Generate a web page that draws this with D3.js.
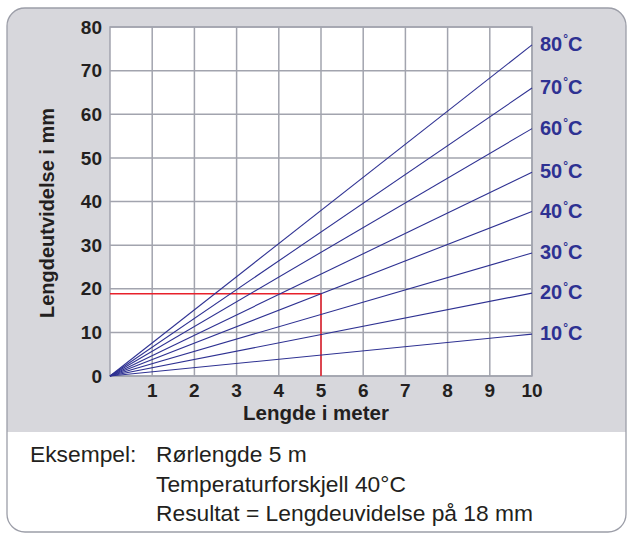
<!DOCTYPE html>
<html>
<head>
<meta charset="utf-8">
<script src="https://cdn.jsdelivr.net/npm/d3@7"></script>
<style>
  html, body { margin: 0; padding: 0; background: #ffffff; }
  svg { display: block; font-family: "Liberation Sans", Arial, Helvetica, sans-serif; }
</style>
</head>
<body>
<svg id="chart" width="627" height="534"></svg>
<script>
// ---- data ----
const lengths = [0, 10];                       // metres (line start / end)
const temps = [10, 20, 30, 40, 50, 60, 70, 80]; // temperature difference °C
const expansionAt10m = [9.6, 19.0, 28.2, 37.7, 46.7, 56.7, 66.0, 75.9]; // mm at 10 m
const xTicks = [1, 2, 3, 4, 5, 6, 7, 8, 9, 10];
const yTicks = [0, 10, 20, 30, 40, 50, 60, 70, 80];
const example = { length: 5, temp: 40 };
const exampleLines = [
  ["Eksempel:", "Rørlengde 5 m"],
  ["", "Temperaturforskjell 40°C"],
  ["", "Resultat = Lengdeuvidelse på 18 mm"]
];
const xTitle = "Lengde i meter";
const yTitle = "Lengdeutvidelse i mm";

// ---- layout ----
const svg = d3.select("#chart");
const W = 627, H = 534;
const plot = { left: 110, top: 27, right: 532, bottom: 376 };
const frame = { x: 7, y: 8, w: 619, h: 524, r: 18, split: 432 };

const x = d3.scaleLinear().domain([0, 10]).range([plot.left, plot.right]);
const y = d3.scaleLinear().domain([0, 80]).range([plot.bottom, plot.top]);

const gridColor = "#a2a4ae";
const lineColor = "#2e3192";
const redColor = "#e8212b";
const textColor = "#231f20";

// frame
const defs = svg.append("defs");
defs.append("clipPath").attr("id", "frameClip")
  .append("rect")
  .attr("x", frame.x).attr("y", frame.y).attr("width", frame.w).attr("height", frame.h)
  .attr("rx", frame.r).attr("ry", frame.r);

svg.append("rect")
  .attr("x", frame.x).attr("y", frame.y).attr("width", frame.w).attr("height", frame.h)
  .attr("rx", frame.r).attr("ry", frame.r)
  .attr("fill", "#ffffff");

svg.append("rect")
  .attr("clip-path", "url(#frameClip)")
  .attr("x", 0).attr("y", 0).attr("width", W).attr("height", frame.split)
  .attr("fill", "#d7d7dc");

svg.append("rect")
  .attr("x", frame.x).attr("y", frame.y).attr("width", frame.w).attr("height", frame.h)
  .attr("rx", frame.r).attr("ry", frame.r)
  .attr("fill", "none").attr("stroke", "#9c9ea8").attr("stroke-width", 1.3);

// plot background
svg.append("rect")
  .attr("x", plot.left).attr("y", plot.top)
  .attr("width", plot.right - plot.left).attr("height", plot.bottom - plot.top)
  .attr("fill", "#ffffff");

// grid
const grid = svg.append("g").attr("stroke", gridColor).attr("stroke-width", 1.5);
grid.selectAll("line.v").data(xTicks).join("line")
  .attr("class", "v")
  .attr("x1", d => x(d)).attr("x2", d => x(d))
  .attr("y1", y(0)).attr("y2", y(80));
grid.selectAll("line.h").data(yTicks).join("line")
  .attr("class", "h")
  .attr("x1", x(0)).attr("x2", x(10))
  .attr("y1", d => y(d)).attr("y2", d => y(d));
svg.append("rect")
  .attr("x", plot.left).attr("y", plot.top)
  .attr("width", plot.right - plot.left).attr("height", plot.bottom - plot.top)
  .attr("fill", "none").attr("stroke", gridColor).attr("stroke-width", 1.5);

// example red lines
const exIdx = temps.indexOf(example.temp);
const exValue = expansionAt10m[exIdx] * example.length / 10;
svg.append("path")
  .attr("d", d3.line()([[x(0), y(exValue)], [x(example.length), y(exValue)], [x(example.length), y(0)]]))
  .attr("fill", "none").attr("stroke", redColor).attr("stroke-width", 1.5);

// expansion lines
const line = d3.line().x(d => x(d[0])).y(d => y(d[1]));
const series = temps.map((t, i) => ({
  temp: t,
  points: lengths.map(L => [L, expansionAt10m[i] * L / 10])
}));
svg.append("g").selectAll("path").data(series).join("path")
  .attr("d", d => line(d.points))
  .attr("fill", "none").attr("stroke", lineColor).attr("stroke-width", 1.1);

// series labels
const lbl = svg.append("g")
  .attr("font-size", 20).attr("font-weight", "bold").attr("fill", lineColor);
series.forEach(s => {
  const t = lbl.append("text")
    .attr("x", x(10) + 8)
    .attr("y", y(s.points[1][1]) + 6);
  t.append("tspan").text(s.temp);
  t.append("tspan").attr("font-size", 12).attr("dy", -8).attr("dx", 1).text("°");
  t.append("tspan").attr("dy", 8).text("C");
});

// y axis labels
svg.append("g").selectAll("text").data(yTicks).join("text")
  .attr("x", plot.left - 8)
  .attr("y", d => y(d))
  .attr("dy", "0.35em")
  .attr("text-anchor", "end")
  .attr("font-size", 19).attr("font-weight", "bold").attr("fill", textColor)
  .text(d => d);

// x axis labels
svg.append("g").selectAll("text").data(xTicks).join("text")
  .attr("x", d => x(d))
  .attr("y", 397)
  .attr("text-anchor", "middle")
  .attr("font-size", 19).attr("font-weight", "bold").attr("fill", textColor)
  .text(d => d);

// axis titles
svg.append("text")
  .attr("x", 316).attr("y", 420)
  .attr("text-anchor", "middle")
  .attr("font-size", 20.5).attr("font-weight", "bold").attr("fill", textColor)
  .text(xTitle);

svg.append("text")
  .attr("transform", "translate(54,213) rotate(-90)")
  .attr("text-anchor", "middle")
  .attr("font-size", 20).attr("font-weight", "bold").attr("fill", textColor)
  .text(yTitle);

// example text
const ex = svg.append("g").attr("font-size", 22.8).attr("fill", textColor);
exampleLines.forEach((row, i) => {
  const by = 462 + i * 29.5;
  if (row[0]) ex.append("text").attr("x", 30).attr("y", by).text(row[0]);
  ex.append("text").attr("x", 156).attr("y", by).text(row[1]);
});
</script>
</body>
</html>
